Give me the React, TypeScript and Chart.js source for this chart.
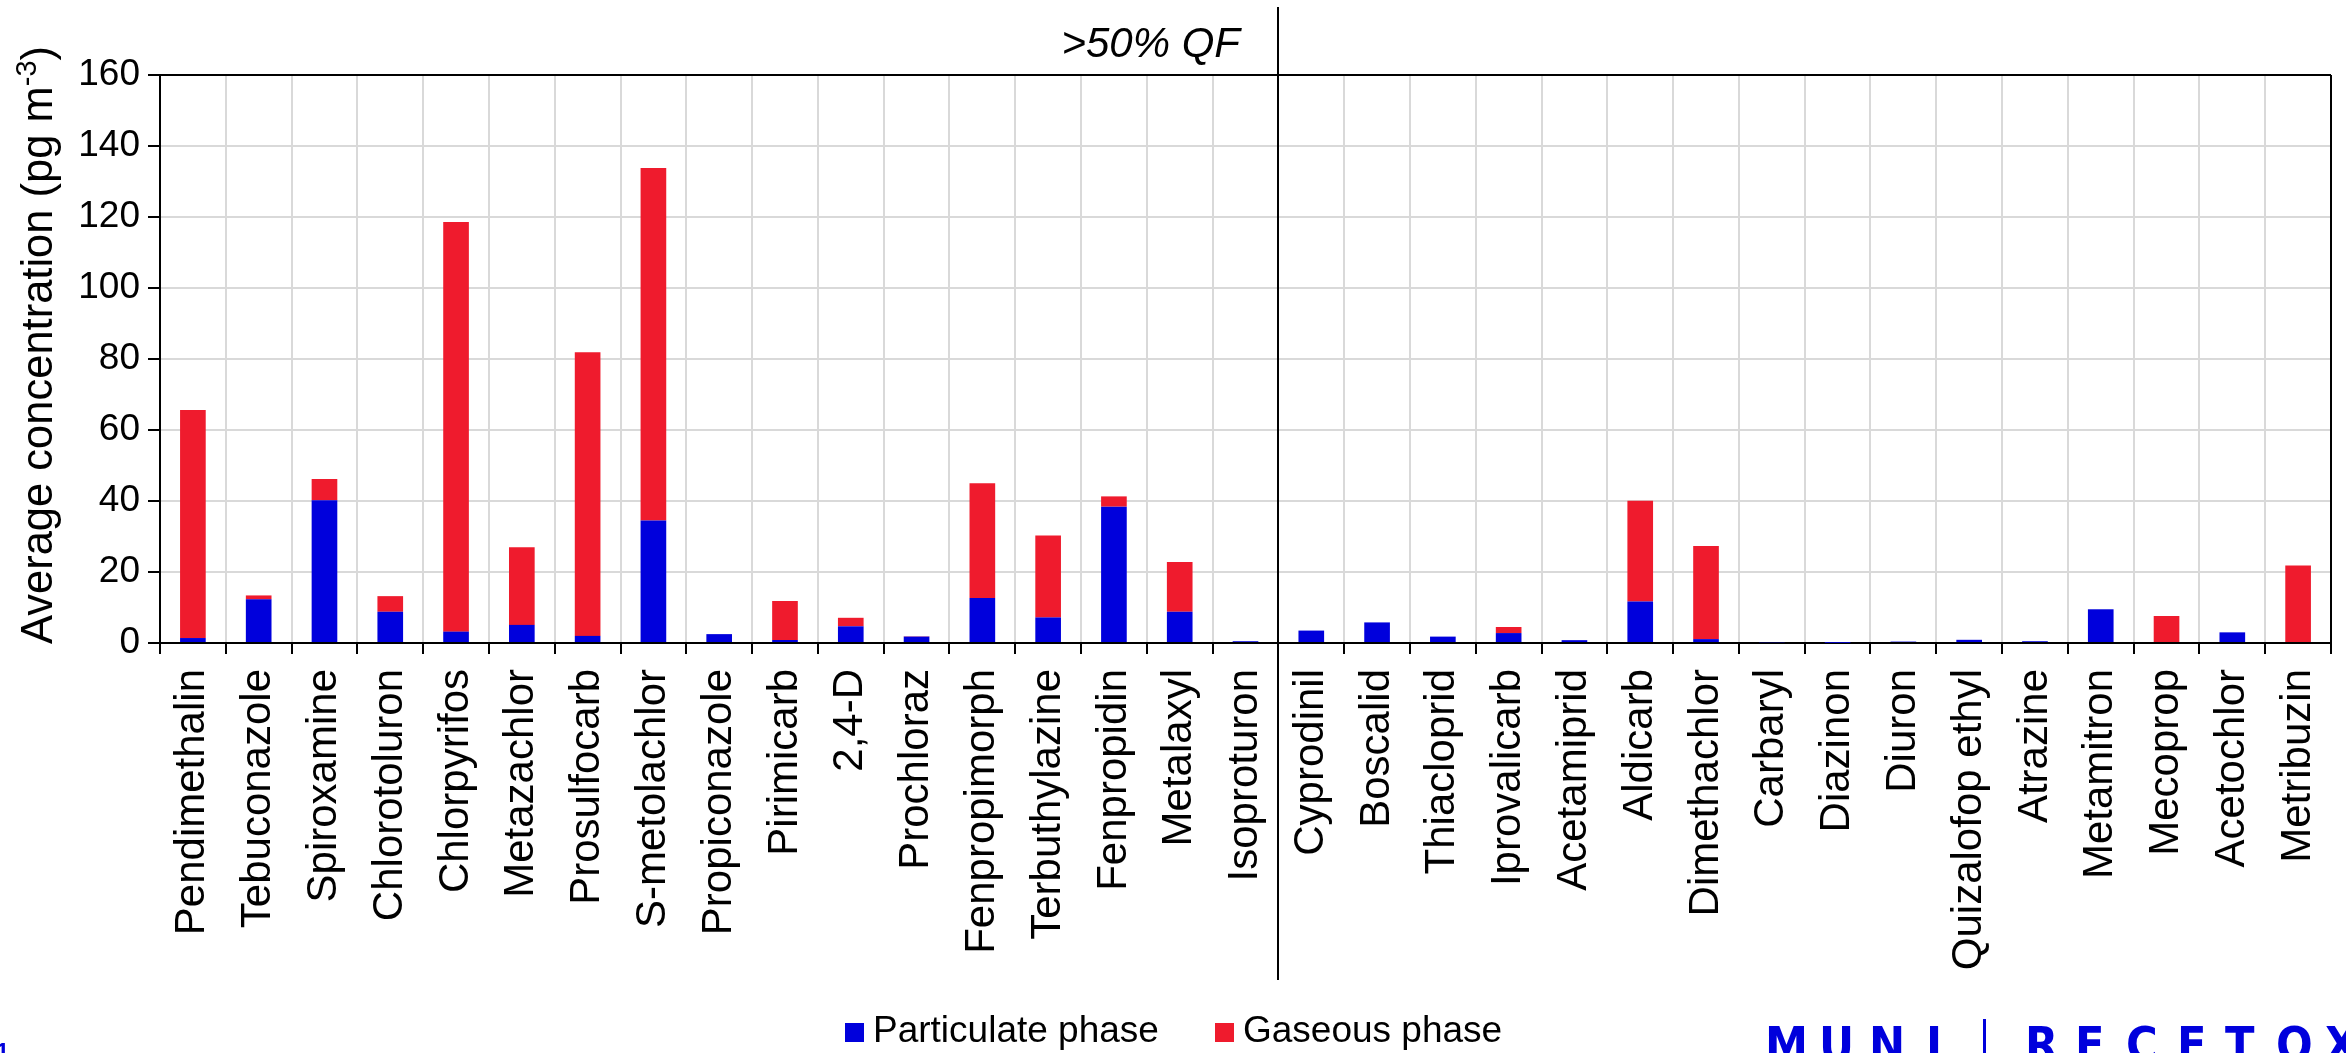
import React, { useEffect, useRef } from "react";
import { Chart, registerables } from "chart.js";

Chart.register(...registerables);

const categories = [
  "Pendimethalin", "Tebuconazole", "Spiroxamine", "Chlorotoluron", "Chlorpyrifos",
  "Metazachlor", "Prosulfocarb", "S-metolachlor", "Propiconazole", "Pirimicarb",
  "2,4-D", "Prochloraz", "Fenpropimorph", "Terbuthylazine", "Fenpropidin",
  "Metalaxyl", "Isoproturon", "Cyprodinil", "Boscalid", "Thiacloprid",
  "Iprovalicarb", "Acetamiprid", "Aldicarb", "Dimethachlor", "Carbaryl",
  "Diazinon", "Diuron", "Quizalofop ethyl", "Atrazine", "Metamitron",
  "Mecoprop", "Acetochlor", "Metribuzin",
];

const particulate = [
  1.4, 12.3, 40.2, 8.8, 3.2, 5.1, 2.0, 34.5, 2.5, 0.85,
  4.7, 1.8, 12.7, 7.2, 38.4, 8.8, 0.5, 3.5, 5.8, 1.8,
  2.8, 0.8, 11.7, 1.1, 0.2, 0.05, 0.4, 0.9, 0.5, 9.5,
  0, 3.0, 0,
];

const gaseous = [
  64.2, 1.1, 6.0, 4.4, 115.4, 21.9, 79.9, 99.3, 0, 11.0,
  2.4, 0.1, 32.3, 23.1, 2.9, 14.0, 0, 0, 0, 0,
  1.7, 0, 28.4, 26.2, 0, 0, 0, 0, 0, 0,
  7.6, 0, 21.8,
];

const seriesNames = ["Particulate phase", "Gaseous phase"];
const seriesColors = ["#0000DC", "#EF1B2D"];
const yMin = 0;
const yMax = 160;
const yStep = 20;
const dividerAfterIndex = 16;
const groupLabel = ">50% QF";
const yTitleMain = "Average concentration (pg m";
const yTitleSup = "-3";
const yTitleEnd = ")";
const logoLeft = ["M", "U", "N", "I"];
const logoRight = ["R", "E", "C", "E", "T", "O", "X"];

const FONT = "'Liberation Sans', Arial, sans-serif";

const overlayPlugin = {
  id: "overlay",
  afterDraw(chart: any) {
    const ctx = chart.ctx;
    const area = chart.chartArea;
    const xs = chart.scales.x;
    ctx.save();
    ctx.strokeStyle = "#000";
    ctx.lineWidth = 2;
    ctx.beginPath();
    ctx.moveTo(area.left, area.top);
    ctx.lineTo(area.right, area.top);
    ctx.moveTo(area.right, area.top);
    ctx.lineTo(area.right, area.bottom);
    ctx.stroke();

    const dx = Math.round(
      (xs.getPixelForValue(dividerAfterIndex) + xs.getPixelForValue(dividerAfterIndex + 1)) / 2
    );
    ctx.beginPath();
    ctx.moveTo(dx, 7);
    ctx.lineTo(dx, 980);
    ctx.stroke();

    ctx.fillStyle = "#000";
    ctx.font = `italic 42px ${FONT}`;
    ctx.textAlign = "right";
    ctx.textBaseline = "alphabetic";
    ctx.fillText(groupLabel, dx - 38, 57);

    ctx.save();
    ctx.translate(52, 345);
    ctx.rotate(-Math.PI / 2);
    ctx.textAlign = "left";
    const mainFont = `43.5px ${FONT}`;
    const supFont = `29px ${FONT}`;
    ctx.font = mainFont;
    const w1 = ctx.measureText(yTitleMain).width;
    const w3 = ctx.measureText(yTitleEnd).width;
    ctx.font = supFont;
    const w2 = ctx.measureText(yTitleSup).width;
    let x0 = -(w1 + w2 + w3) / 2;
    ctx.font = mainFont;
    ctx.fillText(yTitleMain, x0, 0);
    x0 += w1;
    ctx.font = supFont;
    ctx.fillText(yTitleSup, x0, -16);
    x0 += w2;
    ctx.font = mainFont;
    ctx.fillText(yTitleEnd, x0, 0);
    ctx.restore();

    ctx.font = `37px ${FONT}`;
    ctx.textAlign = "left";
    const legendX = [845, 1215];
    seriesNames.forEach((name, i) => {
      ctx.fillStyle = seriesColors[i];
      ctx.fillRect(legendX[i], 1023, 19, 19);
      ctx.fillStyle = "#000";
      ctx.fillText(name, legendX[i] + 28, 1042);
    });

    ctx.fillStyle = "#0000DC";
    ctx.font = `bold 48px 'Liberation Sans Narrow', 'DejaVu Sans Condensed', sans-serif`;
    const leftPos = [1765, 1819, 1869, 1926];
    logoLeft.forEach((ch, i) => ctx.fillText(ch, leftPos[i], 1061));
    ctx.fillRect(1983, 1019, 3, 40);
    const rightPos = [2025, 2075, 2126, 2177, 2225, 2276, 2325];
    logoRight.forEach((ch, i) => ctx.fillText(ch, rightPos[i], 1061));

    ctx.font = `bold 24px ${FONT}`;
    ctx.fillText("1", -4, 1060);
    ctx.restore();
  },
};

export default function App() {
  const ref = useRef<HTMLCanvasElement | null>(null);

  useEffect(() => {
    if (!ref.current) return;
    Chart.defaults.font.family = FONT;
    const chart = new Chart(ref.current, {
      type: "bar",
      data: {
        labels: categories,
        datasets: [
          {
            label: seriesNames[0],
            data: particulate,
            backgroundColor: seriesColors[0],
            borderWidth: 0,
            barPercentage: 0.39,
            categoryPercentage: 1,
          },
          {
            label: seriesNames[1],
            data: gaseous,
            backgroundColor: seriesColors[1],
            borderWidth: 0,
            barPercentage: 0.39,
            categoryPercentage: 1,
          },
        ],
      },
      options: {
        animation: false,
        responsive: false,
        devicePixelRatio: 1,
        layout: { padding: { top: 75, right: 15, bottom: 70, left: 0 } },
        plugins: {
          legend: { display: false },
          tooltip: { enabled: false },
        },
        scales: {
          x: {
            stacked: true,
            grid: {
              offset: true,
              color: "#d9d9d9",
              lineWidth: 2,
              tickColor: "#000",
              tickWidth: 2,
              tickLength: 11,
            },
            border: { color: "#000", width: 2 },
            ticks: {
              autoSkip: false,
              maxRotation: 90,
              minRotation: 90,
              padding: 15,
              color: "#000",
              font: { family: FONT, size: 42 },
            },
            afterFit: (s: any) => {
              s.height = 340;
              s.paddingLeft = 0;
              s.paddingRight = 0;
            },
          },
          y: {
            stacked: true,
            min: yMin,
            max: yMax,
            ticks: {
              stepSize: yStep,
              padding: 8,
              color: "#000",
              font: { family: FONT, size: 37 },
            },
            grid: {
              color: "#d9d9d9",
              lineWidth: 2,
              tickColor: "#000",
              tickWidth: 2,
              tickLength: 12,
            },
            border: { color: "#000", width: 2 },
            afterFit: (s: any) => {
              s.width = 160;
              s.paddingTop = 0;
              s.paddingBottom = 0;
            },
          },
        },
      },
      plugins: [overlayPlugin],
    });
    return () => chart.destroy();
  }, []);

  return (
    <div style={{ position: "absolute", left: 0, top: 0, width: 2346, height: 1053, background: "#fff" }}>
      <canvas ref={ref} width={2346} height={1053} style={{ display: "block" }} />
    </div>
  );
}
